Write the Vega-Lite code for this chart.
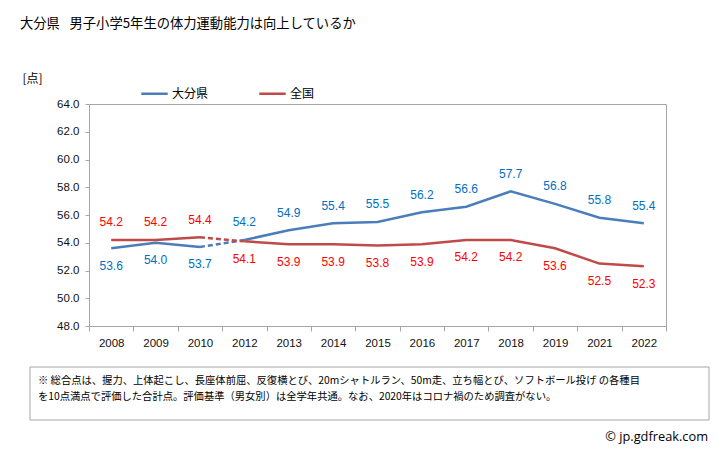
{
  "$schema": "https://vega.github.io/schema/vega-lite/v6.json",
  "width": 577,
  "height": 222,
  "autosize": {"type": "none"},
  "padding": {"left": 89, "top": 104, "right": 62, "bottom": 124},
  "background": "white",
  "config": {
    "view": {"stroke": "#a6a6a6", "strokeWidth": 1},
    "font": "Noto Sans CJK JP"
  },
  "title": {
    "text": "大分県 \u2002男子小学5年生の体力運動能力は向上しているか",
    "anchor": "start",
    "frame": "group",
    "dx": -69,
    "offset": 42,
    "fontSize": 13.3,
    "fontWeight": "normal",
    "font": "Noto Sans CJK JP",
    "color": "#000000"
  },
  "datasets": {
    "scores": [
      {"series": "大分県", "year": "2008", "value": 53.6},
      {"series": "大分県", "year": "2009", "value": 54.0},
      {"series": "大分県", "year": "2010", "value": 53.7},
      {"series": "大分県", "year": "2012", "value": 54.2},
      {"series": "大分県", "year": "2013", "value": 54.9},
      {"series": "大分県", "year": "2014", "value": 55.4},
      {"series": "大分県", "year": "2015", "value": 55.5},
      {"series": "大分県", "year": "2016", "value": 56.2},
      {"series": "大分県", "year": "2017", "value": 56.6},
      {"series": "大分県", "year": "2018", "value": 57.7},
      {"series": "大分県", "year": "2019", "value": 56.8},
      {"series": "大分県", "year": "2021", "value": 55.8},
      {"series": "大分県", "year": "2022", "value": 55.4},
      {"series": "全国", "year": "2008", "value": 54.2},
      {"series": "全国", "year": "2009", "value": 54.2},
      {"series": "全国", "year": "2010", "value": 54.4},
      {"series": "全国", "year": "2012", "value": 54.1},
      {"series": "全国", "year": "2013", "value": 53.9},
      {"series": "全国", "year": "2014", "value": 53.9},
      {"series": "全国", "year": "2015", "value": 53.8},
      {"series": "全国", "year": "2016", "value": 53.9},
      {"series": "全国", "year": "2017", "value": 54.2},
      {"series": "全国", "year": "2018", "value": 54.2},
      {"series": "全国", "year": "2019", "value": 53.6},
      {"series": "全国", "year": "2021", "value": 52.5},
      {"series": "全国", "year": "2022", "value": 52.3}
    ]
  },
  "layer": [
    {
      "data": {"name": "scores"},
      "encoding": {
        "x": {
          "field": "year",
          "type": "ordinal",
          "scale": {
            "type": "band",
            "paddingInner": 0,
            "paddingOuter": 0,
            "domain": ["2008", "2009", "2010", "2012", "2013", "2014", "2015", "2016", "2017", "2018", "2019", "2021", "2022"]
          },
          "axis": {
            "title": null,
            "labelAngle": 0,
            "tickBand": "extent",
            "domainColor": "#a6a6a6",
            "tickColor": "#a6a6a6",
            "tickSize": 5,
            "labelFont": "Liberation Sans",
            "labelFontSize": 11.5,
            "labelColor": "#111111",
            "labelPadding": 6,
            "grid": false
          }
        },
        "y": {
          "field": "value",
          "type": "quantitative",
          "scale": {"domain": [48, 64], "nice": false, "zero": false},
          "axis": {
            "values": [48, 50, 52, 54, 56, 58, 60, 62, 64],
            "format": ".1f",
            "grid": false,
            "title": "[点]",
            "titleAngle": 0,
            "titleX": -67,
            "titleY": -26,
            "titleAlign": "left",
            "titleBaseline": "middle",
            "titleFontWeight": "normal",
            "titleFontSize": 12,
            "titleFont": "Noto Sans CJK JP",
            "titleColor": "#000000",
            "domainColor": "#a6a6a6",
            "tickColor": "#a6a6a6",
            "tickSize": 4,
            "labelFont": "Liberation Sans",
            "labelFontSize": 11.5,
            "labelColor": "#111111",
            "labelPadding": 6
          }
        }
      },
      "layer": [
        {
          "transform": [{"filter": "toNumber(datum.year) <= 2010"}],
          "mark": {"type": "line", "strokeWidth": 2.5},
          "encoding": {
            "color": {
              "field": "series",
              "type": "nominal",
              "scale": {"domain": ["大分県", "全国"], "range": ["#4a7ebb", "#be4b48"]},
              "legend": {
                "orient": "none",
                "legendX": 51,
                "legendY": -25,
                "direction": "horizontal",
                "title": null,
                "symbolType": "stroke",
                "symbolStrokeWidth": 2.5,
                "symbolSize": 700,
                "labelFontSize": 12,
                "labelFont": "Noto Sans CJK JP",
                "labelColor": "#000000",
                "labelOffset": 3,
                "columnPadding": 45
              }
            }
          }
        },
        {
          "transform": [{"filter": "toNumber(datum.year) >= 2012"}],
          "mark": {"type": "line", "strokeWidth": 2.5},
          "encoding": {
            "color": {"field": "series", "type": "nominal", "legend": null}
          }
        },
        {
          "transform": [{"filter": "datum.year == '2010' || datum.year == '2012'"}],
          "mark": {"type": "line", "strokeWidth": 2.5, "strokeDash": [5, 3]},
          "encoding": {
            "color": {"field": "series", "type": "nominal", "legend": null}
          }
        },
        {
          "transform": [{"filter": "(datum.series == '大分県' && toNumber(datum.year) >= 2012) || (datum.series == '全国' && toNumber(datum.year) <= 2010)"}],
          "mark": {"type": "text", "dy": -17.5, "baseline": "middle", "font": "Liberation Sans", "fontSize": 12},
          "encoding": {
            "text": {"field": "value", "type": "quantitative", "format": ".1f"},
            "fill": {
              "field": "series",
              "type": "nominal",
              "scale": {"domain": ["大分県", "全国"], "range": ["#0070c0", "#ff0000"]},
              "legend": null
            }
          }
        },
        {
          "transform": [{"filter": "!((datum.series == '大分県' && toNumber(datum.year) >= 2012) || (datum.series == '全国' && toNumber(datum.year) <= 2010))"}],
          "mark": {"type": "text", "dy": 17.5, "baseline": "middle", "font": "Liberation Sans", "fontSize": 12},
          "encoding": {
            "text": {"field": "value", "type": "quantitative", "format": ".1f"},
            "fill": {
              "field": "series",
              "type": "nominal",
              "scale": {"domain": ["大分県", "全国"], "range": ["#0070c0", "#ff0000"]},
              "legend": null
            }
          }
        }
      ]
    },
    {
      "data": {"values": [{}]},
      "mark": {"type": "rect", "x": -59, "x2": 620, "y": 263, "y2": 316, "fill": "white", "stroke": "#a6a6a6", "strokeWidth": 1},
      "encoding": {}
    },
    {
      "data": {"values": [{}]},
      "mark": {"type": "text", "text": "※ 総合点は、握力、上体起こし、長座体前屈、反復横とび、20mシャトルラン、50m走、立ち幅とび、ソフトボール投げ の各種目", "x": -51, "y": 277, "align": "left", "baseline": "middle", "fontSize": 10.3, "font": "Noto Sans CJK JP", "fill": "#000000"},
      "encoding": {}
    },
    {
      "data": {"values": [{}]},
      "mark": {"type": "text", "text": "を10点満点で評価した合計点。評価基準（男女別）は全学年共通。なお、2020年はコロナ禍のため調査がない。", "x": -51, "y": 293, "align": "left", "baseline": "middle", "fontSize": 10.3, "font": "Noto Sans CJK JP", "fill": "#000000"},
      "encoding": {}
    },
    {
      "data": {"values": [{}]},
      "mark": {"type": "text", "text": "© jp.gdfreak.com", "x": 619, "y": 333, "align": "right", "baseline": "middle", "fontSize": 12.8, "font": "Open Sans", "fill": "#000000"},
      "encoding": {}
    }
  ]
}
